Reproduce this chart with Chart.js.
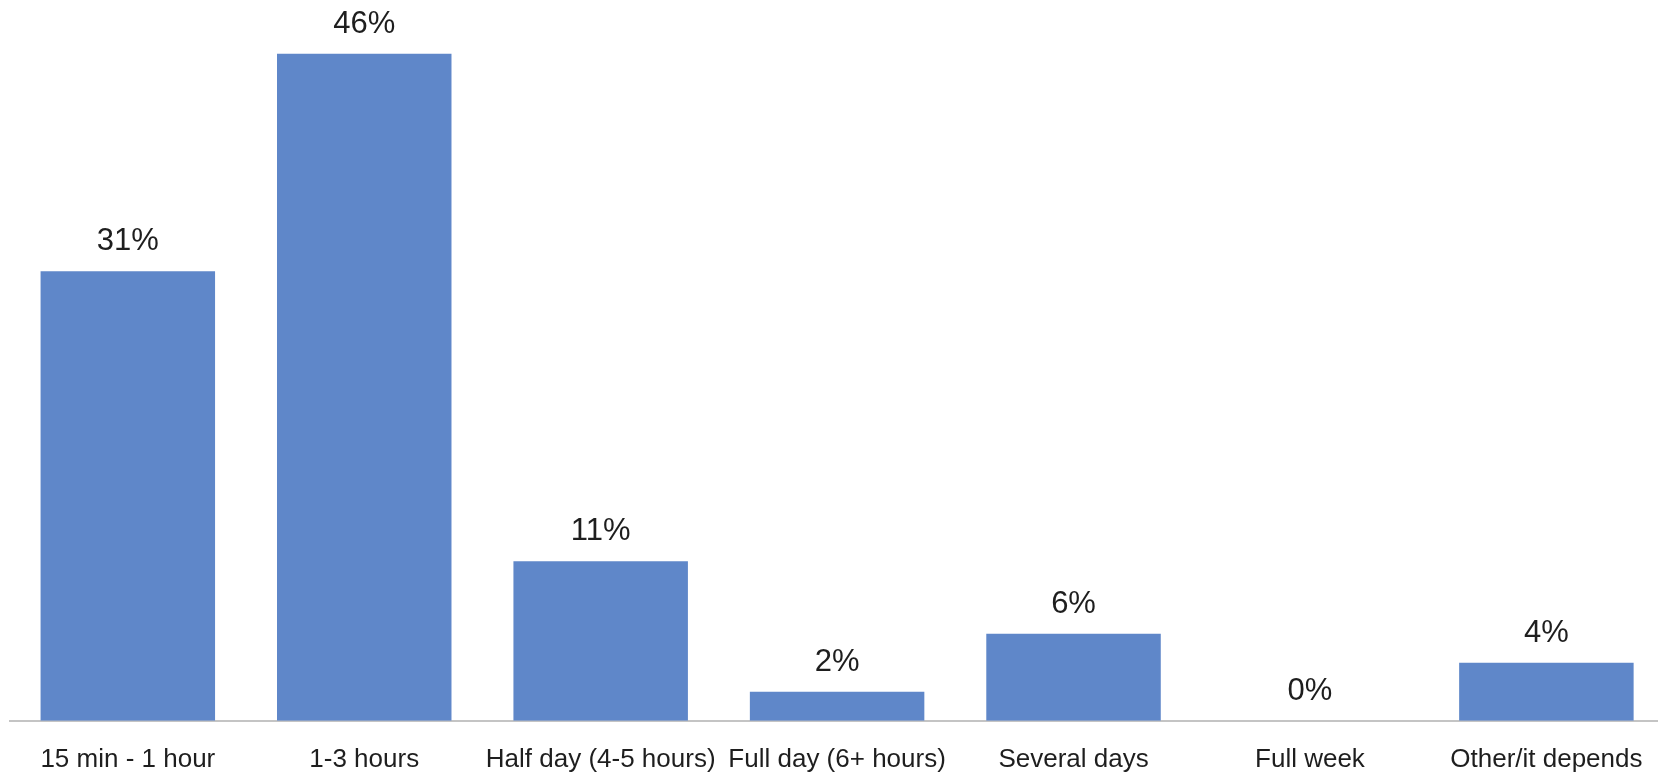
<!DOCTYPE html>
<html>
<head>
<meta charset="utf-8">
<script src="https://cdn.jsdelivr.net/npm/chart.js@4/dist/chart.umd.min.js"></script>
<style>
  html, body { margin: 0; padding: 0; background: #ffffff; overflow: hidden; }
  #wrap { position: absolute; left: 0; top: 0; width: 1670px; height: 772px; }
</style>
</head>
<body>
<div id="wrap"><canvas id="chart" width="1670" height="772"></canvas></div>
<script>
// Time spent per task, share of respondents
const categories = [
  '15 min - 1 hour',
  '1-3 hours',
  'Half day (4-5 hours)',
  'Full day (6+ hours)',
  'Several days',
  'Full week',
  'Other/it depends'
];
const shares = [31, 46, 11, 2, 6, 0, 4];
const valueLabels = ['31%', '46%', '11%', '2%', '6%', '0%', '4%'];

const BAR_COLOR = '#5f87c9';
const AXIS_COLOR = '#c4c4c4';
const TEXT_COLOR = '#1e1e1e';
const FONT = '"Liberation Sans", Arial, Helvetica, sans-serif';

// Writes the percentage above each bar
const valueLabelPlugin = {
  id: 'valueLabels',
  afterDatasetsDraw(chart) {
    const ctx = chart.ctx;
    const meta = chart.getDatasetMeta(0);
    ctx.save();
    ctx.font = '31px ' + FONT;
    ctx.fillStyle = TEXT_COLOR;
    ctx.textAlign = 'center';
    ctx.textBaseline = 'alphabetic';
    meta.data.forEach((bar, i) => {
      ctx.fillText(valueLabels[i], bar.x, bar.y - 21);
    });
    ctx.restore();
  }
};

new Chart(document.getElementById('chart'), {
  type: 'bar',
  data: {
    labels: categories,
    datasets: [{
      data: shares,
      backgroundColor: BAR_COLOR,
      borderWidth: 0,
      categoryPercentage: 1,
      barPercentage: 0.738
    }]
  },
  options: {
    responsive: false,
    animation: false,
    devicePixelRatio: 1,
    layout: { padding: { left: 9.6, right: 5.4, top: 0, bottom: 0 } },
    plugins: {
      legend: { display: false },
      tooltip: { enabled: false }
    },
    scales: {
      x: {
        grid: { display: false, drawTicks: false },
        border: { display: true, color: AXIS_COLOR, width: 2 },
        ticks: {
          color: TEXT_COLOR,
          font: { family: FONT, size: 26 },
          padding: 24,
          maxRotation: 0,
          autoSkip: false
        },
        afterFit(scale) { scale.height = 51.3; }
      },
      y: {
        display: false,
        min: 0,
        max: 49.7
      }
    }
  },
  plugins: [valueLabelPlugin]
});
</script>
</body>
</html>
